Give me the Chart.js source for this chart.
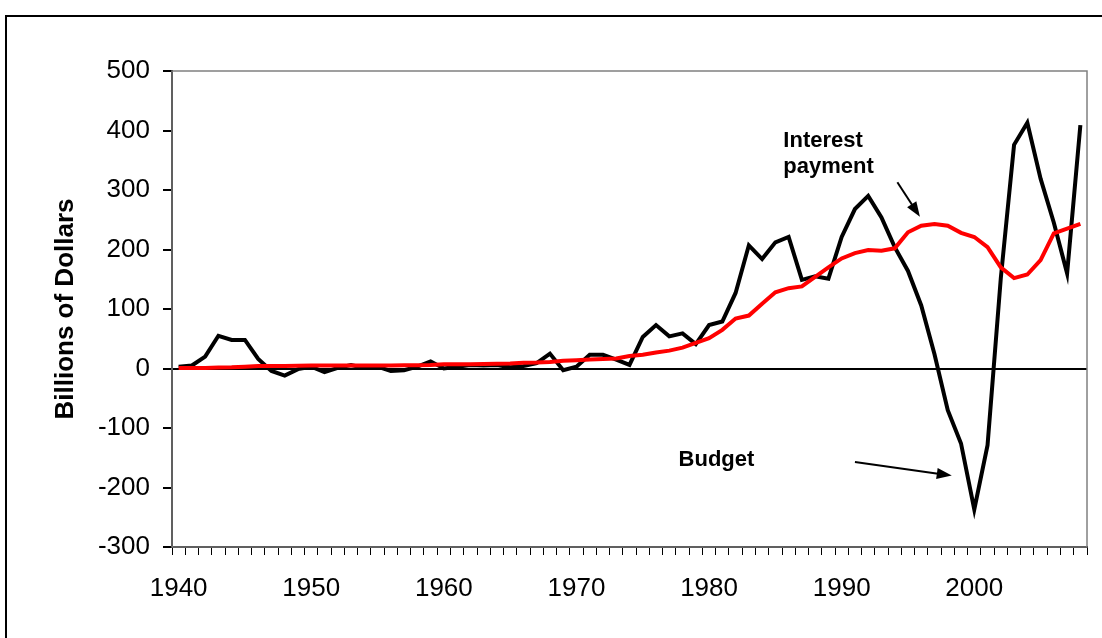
<!DOCTYPE html>
<html>
<head>
<meta charset="utf-8">
<script src="https://cdn.jsdelivr.net/npm/chart.js@4"></script>
<style>
  body { margin: 0; background: #fff; overflow: hidden; }
  #wrap { position: relative; width: 1102px; height: 638px; overflow: hidden; }
  #frame { position: absolute; left: 5px; top: 15px; width: 1200px; height: 700px; border: 2px solid #000; }
  canvas { position: absolute; left: 0; top: 0; }
</style>
</head>
<body>
<div id="wrap">
  <div id="frame"></div>
  <canvas id="chart" width="1102" height="638"></canvas>
</div>

<script>
// years on the x axis
const years = [
  1940, 1941, 1942, 1943, 1944, 1945, 1946, 1947, 1948, 1949,
  1950, 1951, 1952, 1953, 1954, 1955, 1956, 1957, 1958, 1959,
  1960, 1961, 1962, 1963, 1964, 1965, 1966, 1967, 1968, 1969,
  1970, 1971, 1972, 1973, 1974, 1975, 1976, 1977, 1978, 1979,
  1980, 1981, 1982, 1983, 1984, 1985, 1986, 1987, 1988, 1989,
  1990, 1991, 1992, 1993, 1994, 1995, 1996, 1997, 1998, 1999,
  2000, 2001, 2002, 2003, 2004, 2005, 2006, 2007, 2008
]

// black line, billions of dollars
const budget = [
  3, 5, 20, 55, 48, 48, 16, -4, -12, -1,
  3, -6, 1, 6, 1, 3, -4, -3, 3, 12,
  0, 3, 6, 5, 6, 2, 4, 9, 25, -3,
  3, 23, 23, 15, 6, 53, 73, 54, 59, 41,
  73, 79, 127, 207, 184, 212, 221, 149, 155, 151,
  221, 268, 290, 254, 204, 164, 106, 24, -70, -126,
  -237, -129, 152, 376, 413, 319, 245, 160, 409
]

// red line, billions of dollars
const interest = [
  1, 1, 1, 1.5, 2, 3, 4, 4, 4, 4.5,
  5, 5, 5, 5, 5, 5, 5, 5.5, 5.5, 6,
  7, 7, 7, 7.5, 8, 8.5, 9.5, 10, 11, 13,
  14, 15, 16, 17, 21, 23, 27, 30, 35, 43,
  51, 65, 84, 89, 109, 128, 135, 138, 154, 170,
  185, 194, 199, 198, 202, 229, 240, 243, 240, 228,
  221, 204, 170, 152, 158, 182, 227, 235, 243
]

const yMin = -300
const yMax = 500
const yStep = 100

const FONT = '"Liberation Sans", Arial, sans-serif'
Chart.defaults.font.family = FONT

function arrow(ctx, x1, y1, x2, y2) {
  const a = Math.atan2(y2 - y1, x2 - x1)
  const len = 15, half = 5.5
  ctx.beginPath()
  ctx.moveTo(x1, y1)
  ctx.lineTo(x2 - Math.cos(a) * len * 0.8, y2 - Math.sin(a) * len * 0.8)
  ctx.lineWidth = 2
  ctx.strokeStyle = '#000'
  ctx.stroke()
  ctx.beginPath()
  ctx.moveTo(x2, y2)
  ctx.lineTo(x2 - Math.cos(a) * len - Math.sin(a) * half, y2 - Math.sin(a) * len + Math.cos(a) * half)
  ctx.lineTo(x2 - Math.cos(a) * len + Math.sin(a) * half, y2 - Math.sin(a) * len - Math.cos(a) * half)
  ctx.closePath()
  ctx.fillStyle = '#000'
  ctx.fill()
}

const extras = {
  id: 'extras',
  beforeDatasetsDraw(chart) {
    const {ctx, chartArea: a} = chart
    ctx.save()
    ctx.strokeStyle = '#808080'
    ctx.lineWidth = 1.5
    ctx.strokeRect(a.left, a.top, a.right - a.left, a.bottom - a.top)
    ctx.restore()
  },
  afterDatasetsDraw(chart) {
    const {ctx, scales: {x, y}} = chart
    const px = yr => x.getPixelForValue(yr - years[0])
    const py = v => y.getPixelForValue(v)
    ctx.save()
    ctx.fillStyle = '#000'
    ctx.font = 'bold 22px ' + FONT
    ctx.textBaseline = 'alphabetic'
    ctx.fillText('Interest', px(1985.6), py(372))
    ctx.fillText('payment', px(1985.6), py(328))
    ctx.fillText('Budget', px(1977.7), py(-164))
    arrow(ctx, px(1994.2), py(313), px(1995.9), py(255))
    arrow(ctx, px(1991.0), py(-157), px(1998.3), py(-180))
    ctx.restore()
  }
}

new Chart(document.getElementById('chart'), {
  type: 'line',
  data: {
    labels: years,
    datasets: [
      {
        label: 'Budget',
        data: budget,
        borderColor: '#000000',
        borderWidth: 4,
        pointRadius: 0,
        tension: 0,
        order: 2
      },
      {
        label: 'Interest payment',
        data: interest,
        borderColor: '#ff0000',
        borderWidth: 4,
        pointRadius: 0,
        tension: 0,
        order: 1
      }
    ]
  },
  options: {
    responsive: false,
    animation: false,
    layout: { padding: { top: 71, right: 15, left: 0, bottom: 0 } },
    plugins: {
      legend: { display: false },
      tooltip: { enabled: false }
    },
    scales: {
      x: {
        offset: true,
        grid: { offset: true, drawOnChartArea: false, tickLength: 8, tickColor: '#000', color: '#000' },
        border: { color: '#000', width: 2 },
        ticks: {
          autoSkip: false,
          maxRotation: 0,
          padding: 18,
          color: '#000',
          font: { size: 26 },
          callback: (v, i) => years[i] % 10 === 0 ? String(years[i]) : ''
        },
        afterFit: s => { s.height = 91 }
      },
      y: {
        min: yMin,
        max: yMax,
        ticks: { stepSize: yStep, padding: 13, color: '#000', font: { size: 26 } },
        grid: {
          color: c => c.tick && c.tick.value === 0 ? '#000' : 'rgba(0,0,0,0)',
          lineWidth: 2,
          tickColor: '#000',
          tickLength: 9
        },
        border: { color: '#000', width: 2 },
        title: {
          display: true,
          text: 'Billions of Dollars',
          color: '#000',
          font: { size: 26, weight: 'bold' },
          padding: { top: 50, bottom: 0 }
        },
        afterFit: s => { s.width = 172 }
      }
    }
  },
  plugins: [extras]
})
</script>
</body>
</html>
